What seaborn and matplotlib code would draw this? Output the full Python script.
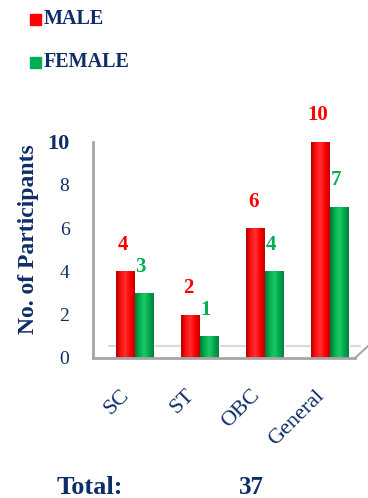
import matplotlib
matplotlib.use("Agg")
import matplotlib.pyplot as plt
import matplotlib.transforms as mtransforms
from matplotlib.colors import LinearSegmentedColormap
import seaborn as sns
import pandas as pd
import numpy as np

categories = ["SC", "ST", "OBC", "General"]
male = [4, 2, 6, 10]
female = [3, 1, 4, 7]
series = ["MALE", "FEMALE"]
yticks = [0, 2, 4, 6, 8, 10]
total_label = "Total:"
total_value = "37"

NAVY = "#0f2d69"
RED = "#ff0000"
GREEN = "#00b050"
GREY = "#a6a6a6"

sns.set_style("white")
plt.rcParams["font.family"] = ["Liberation Serif", "DejaVu Serif"]

df = pd.DataFrame({
    "cat": categories * 2,
    "val": male + female,
    "sex": [series[0]] * len(categories) + [series[1]] * len(categories),
})

fig = plt.figure(figsize=(3.68, 4.98), dpi=100)
ax = fig.add_axes([93 / 368, 1 - 358 / 498, (355 - 93) / 368, (358 - 120) / 498])

sns.barplot(data=df, x="cat", y="val", hue="sex", palette=[RED, GREEN],
            width=0.58, ax=ax, legend=False, saturation=1)

# cylinder-like shading
cm_red = LinearSegmentedColormap.from_list("r", ["#b00000", "#ff1010", "#ff3030", "#ff0000", "#c00000"])
cm_green = LinearSegmentedColormap.from_list("g", ["#007a38", "#00b050", "#20c868", "#00a84c", "#008040"])
grad = np.linspace(0, 1, 64).reshape(1, -1)
for i, p in enumerate(list(ax.patches)[:8]):
    x0 = p.get_x()
    w = p.get_width()
    h = p.get_height()
    im = ax.imshow(grad, extent=[x0, x0 + w, 0, h], aspect="auto",
                   cmap=cm_red if i < 4 else cm_green, zorder=p.get_zorder() + 0.1)
    im.set_clip_path(p)

ax.set_xlim(-0.65, 3.38)
ax.set_ylim(0, 11)
ax.set_yticks(yticks)
ax.set_yticklabels([str(t) for t in yticks])
for lbl in ax.get_yticklabels():
    lbl.set_color(NAVY)
    lbl.set_fontsize(14)
    if lbl.get_text() == "10":
        lbl.set_fontsize(16)
        lbl.set_fontweight("bold")
ax.tick_params(axis="y", length=5, width=1.5, color=GREY, pad=12)
ax.tick_params(axis="x", length=0, pad=0)

ax.set_xticks(range(len(categories)))
ax.set_xticklabels(categories, rotation=45, ha="right", va="top",
                   rotation_mode="anchor", color=NAVY, fontsize=16)
offset = mtransforms.ScaledTranslation(-15 / 100, -28 / 100, fig.dpi_scale_trans)
for lbl in ax.get_xticklabels():
    lbl.set_transform(lbl.get_transform() + offset)
ax.set_xlabel("")
ax.set_ylabel("No. of Participants", color=NAVY, fontsize=17,
              fontweight="bold", labelpad=6)

for s in ["top", "right"]:
    ax.spines[s].set_visible(False)
ax.spines["left"].set_color(GREY)
ax.spines["left"].set_linewidth(2)
ax.spines["left"].set_bounds(0, 10)
ax.spines["bottom"].set_color(GREY)
ax.spines["bottom"].set_linewidth(2)

# 3D floor hint
ax.plot([-0.4, 3.45], [0.55, 0.55], color="#d9d9d9", lw=1.5, clip_on=False, zorder=0)
ax.plot([3.38, 3.58], [0, 0.55], color=GREY, lw=1.5, clip_on=False)

# value labels
for i, (m, f) in enumerate(zip(male, female)):
    ax.annotate(str(m), (i - 0.145, m), xytext=(-2, 19), textcoords="offset points",
                ha="center", va="center", color=RED, fontsize=15, fontweight="bold")
    ax.annotate(str(f), (i + 0.145, f), xytext=(-3, 19), textcoords="offset points",
                ha="center", va="center", color=GREEN, fontsize=15, fontweight="bold")

# legend
fig.patches.append(plt.Rectangle((30 / 368, 1 - 25 / 498), 11 / 368, 11 / 498,
                                 transform=fig.transFigure, color=RED, figure=fig))
fig.patches.append(plt.Rectangle((30 / 368, 1 - 68 / 498), 11 / 368, 11 / 498,
                                 transform=fig.transFigure, color=GREEN, figure=fig))
fig.text(44 / 368, 1 - 19 / 498, series[0], color=NAVY, fontsize=14.5,
         fontweight="bold", va="center", ha="left")
fig.text(44 / 368, 1 - 62 / 498, series[1], color=NAVY, fontsize=14.5,
         fontweight="bold", va="center", ha="left")

# total
fig.text(57 / 368, 1 - 487 / 498, total_label, color=NAVY, fontsize=19,
         fontweight="bold", va="center", ha="left")
fig.text(251 / 368, 1 - 487 / 498, total_value, color=NAVY, fontsize=18,
         fontweight="bold", va="center", ha="center")

fig.savefig("out.png", dpi=100)
